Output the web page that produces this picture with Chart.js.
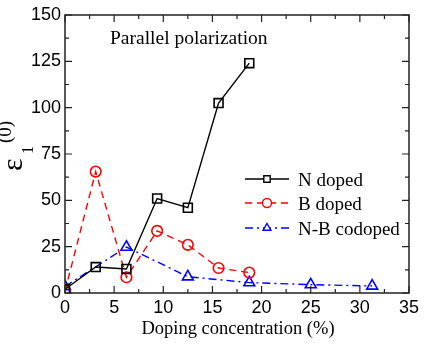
<!DOCTYPE html>
<html>
<head>
<meta charset="utf-8">
<script src="https://cdn.jsdelivr.net/npm/chart.js@4.4.0/dist/chart.umd.min.js"></script>
<style>
  html, body { margin: 0; padding: 0; background: #fff; }
  canvas { display: block; }
</style>
</head>
<body>
<canvas id="eps-chart" width="427" height="346"></canvas>
<script>
// doping concentrations (%) shared by all three series
const concentration = [0, 3.125, 6.25, 9.375, 12.5, 15.625, 18.75, 25, 31.25];

const nDoped    = [2, 14, 13, 51, 46, 102.5, 124];
const bDoped    = [1, 65.5, 8.5, 33.5, 26, 13.5, 11];
const nbCodoped = [3.5, null, 24.8, null, 8.8, null, 5.6, 4.5, 3.8];

const seriesLabels = ['N doped', 'B doped', 'N-B codoped'];
const xTicks = [0, 5, 10, 15, 20, 25, 30, 35];
const yTicks = [0, 25, 50, 75, 100, 125, 150];

// pair the values with the x positions, dropping missing ones
function toPoints(values) {
  const pts = [];
  values.forEach((v, i) => { if (v != null) pts.push({ x: concentration[i], y: v }); });
  return pts;
}

const SERIF = '"Liberation Serif", "Times New Roman", serif';
const SANS = '"Liberation Sans", Arial, sans-serif';

// inward ticks on all four sides + box, titles and legend
const framePlugin = {
  id: 'frame',
  afterDraw(chart) {
    const ctx = chart.ctx;
    const a = chart.chartArea;
    const xs = chart.scales.x, ys = chart.scales.y;
    ctx.save();
    ctx.strokeStyle = '#222';
    ctx.lineWidth = 1.5;
    ctx.strokeRect(a.left, a.top, a.right - a.left, a.bottom - a.top);

    ctx.lineWidth = 1.2;
    ctx.beginPath();
    for (let v = 0; v <= 35; v += 2.5) {
      const px = xs.getPixelForValue(v);
      const len = (v % 5 === 0) ? 7 : 4;
      ctx.moveTo(px, a.bottom); ctx.lineTo(px, a.bottom - len);
      ctx.moveTo(px, a.top); ctx.lineTo(px, a.top + len);
    }
    for (let v = 0; v <= 150; v += 12.5) {
      const py = ys.getPixelForValue(v);
      const len = (v % 25 === 0) ? 7 : 4;
      ctx.moveTo(a.left, py); ctx.lineTo(a.left + len, py);
      ctx.moveTo(a.right, py); ctx.lineTo(a.right - len, py);
    }
    ctx.stroke();

    // text inside plot
    ctx.fillStyle = '#000';
    ctx.font = '19.5px ' + SERIF;
    ctx.textAlign = 'left';
    ctx.textBaseline = 'alphabetic';
    ctx.fillText('Parallel polarization', 110, 44);

    // x title
    ctx.font = '18.5px ' + SERIF;
    ctx.textAlign = 'center';
    ctx.fillText('Doping concentration (%)', 238, 334);

    // y title: epsilon_1^(0), rotated
    ctx.save();
    ctx.translate(22, 171);
    ctx.rotate(-Math.PI / 2);
    ctx.textAlign = 'left';
    ctx.font = '30px ' + SERIF;
    ctx.fillText('\u03b5', 0, 0);
    ctx.font = '16px ' + SERIF;
    ctx.fillText('1', 17, 11);
    ctx.font = '19px ' + SERIF;
    ctx.fillText('(0)', 28, -11);
    ctx.restore();

    // legend
    const rows = [179, 203, 228];
    chart.data.datasets.forEach((ds, i) => {
      const y = rows[i];
      ctx.save();
      ctx.strokeStyle = ds.borderColor;
      ctx.lineWidth = 1.4;
      ctx.setLineDash(ds.borderDash || []);
      ctx.beginPath();
      ctx.moveTo(245, y); ctx.lineTo(289, y);
      ctx.stroke();
      ctx.restore();
      ctx.save();
      ctx.lineWidth = 1.4;
      ctx.fillStyle = '#fff';
      ctx.strokeStyle = ds.borderColor;
      Chart.helpers.drawPoint(ctx, {
        pointStyle: ds.pointStyle, radius: 4.5, rotation: 0,
        borderWidth: 1.4
      }, 267, y);
      ctx.restore();
      ctx.fillStyle = '#000';
      ctx.font = '19px ' + SERIF;
      ctx.textAlign = 'left';
      ctx.fillText(ds.label, 298, y + 7);
    });
    ctx.restore();
  }
};

function makeSet(label, values, color, style, radius, dash) {
  return {
    label: label,
    data: toPoints(values),
    showLine: true,
    borderColor: color,
    backgroundColor: 'rgba(255,255,255,0)',
    borderWidth: 1.4,
    borderDash: dash,
    pointStyle: style,
    pointRadius: radius,
    pointBorderWidth: 1.6,
    pointBorderColor: color,
    pointBackgroundColor: 'rgba(255,255,255,0)',
    tension: 0
  };
}

new Chart(document.getElementById('eps-chart'), {
  type: 'scatter',
  data: {
    datasets: [
      makeSet(seriesLabels[0], nDoped, '#000', 'rect', 6.3, []),
      makeSet(seriesLabels[1], bDoped, '#ff0000', 'circle', 5.3, [7, 5]),
      makeSet(seriesLabels[2], nbCodoped, '#0000ff', 'triangle', 6.3, [8, 4, 2, 4])
    ]
  },
  options: {
    responsive: false,
    animation: false,
    devicePixelRatio: 1,
    layout: { padding: { top: 15, right: 18, left: 0, bottom: 0 } },
    plugins: { legend: { display: false }, tooltip: { enabled: false } },
    scales: {
      x: {
        type: 'linear', min: 0, max: 35,
        afterFit: s => { s.height = 53; },
        afterBuildTicks: s => { s.ticks = xTicks.map(v => ({ value: v })); },
        grid: { display: false, drawTicks: false },
        border: { display: false },
        ticks: { color: '#000', padding: 4, font: { family: SANS, size: 18 }, maxRotation: 0 }
      },
      y: {
        type: 'linear', min: 0, max: 150,
        afterFit: s => { s.width = 65; },
        afterBuildTicks: s => { s.ticks = yTicks.map(v => ({ value: v })); },
        grid: { display: false, drawTicks: false },
        border: { display: false },
        ticks: { color: '#000', padding: 4, font: { family: SANS, size: 18 } }
      }
    }
  },
  plugins: [framePlugin]
});
</script>
</body>
</html>
